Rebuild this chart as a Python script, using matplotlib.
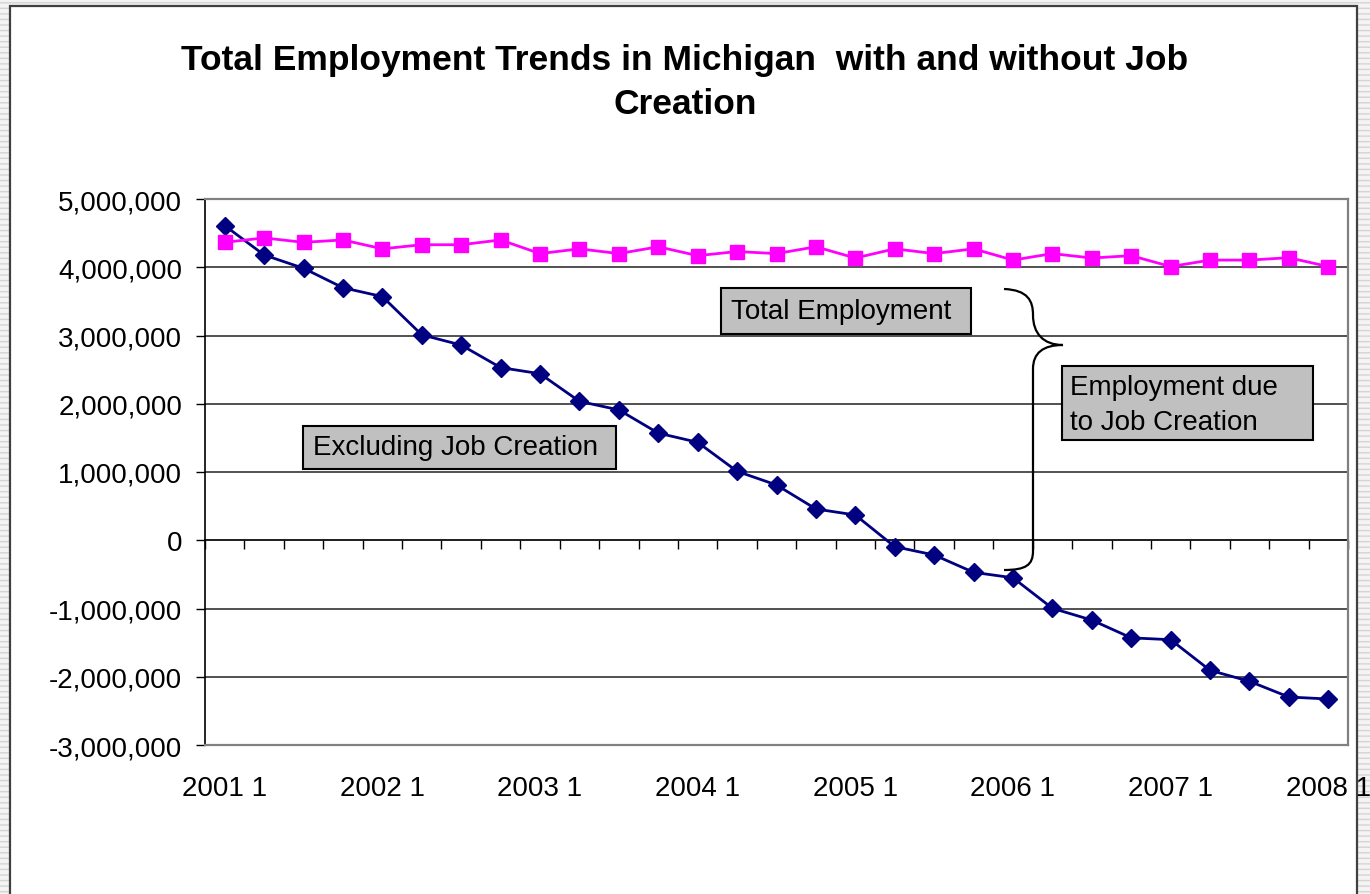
import matplotlib
matplotlib.use("Agg")
import matplotlib.pyplot as plt
from matplotlib.path import Path
from matplotlib.patches import PathPatch, Rectangle
from matplotlib.transforms import Affine2D
from matplotlib.ticker import FuncFormatter
import numpy as np

# ---------------- data ----------------
quarters = [f"{y} {q}" for y in range(2001, 2008) for q in range(1, 5)] + ["2008 1"]
total_employment = [4365000, 4430000, 4365000, 4400000, 4270000, 4330000, 4330000,
                    4400000, 4200000, 4270000, 4200000, 4300000, 4170000, 4230000,
                    4200000, 4300000, 4135000, 4270000, 4200000, 4270000, 4105000,
                    4200000, 4135000, 4170000, 4010000, 4105000, 4105000, 4140000,
                    4010000]
excluding_job_creation = [4610000, 4180000, 3985000, 3700000, 3570000, 3010000, 2860000,
                          2530000, 2440000, 2035000, 1910000, 1570000, 1435000, 1010000,
                          810000, 458000, 370000, -94000, -216000, -470000, -550000,
                          -997000, -1170000, -1430000, -1457000, -1906000, -2067000,
                          -2297000, -2326000]
y_ticks = [-3000000, -2000000, -1000000, 0, 1000000, 2000000, 3000000, 4000000, 5000000]
title = "Total Employment Trends in Michigan  with and without Job\nCreation"
label_total = "Total Employment"
label_excl = "Excluding Job Creation"
label_due = "Employment due\nto Job Creation"

plt.rcParams['font.family'] = ['Liberation Sans', 'DejaVu Sans']

W, H = 1370, 895
fig = plt.figure(figsize=(W / 100, H / 100), dpi=100)
fig.patch.set_facecolor('white')
# pixel transform (origin top-left)
T = Affine2D().scale(1 / W, -1 / H).translate(0, 1) + fig.transFigure

# slide background stripes + chart frame
bg = Rectangle((0, 0), W, H, transform=T, facecolor='#F4F4F4', edgecolor='#D4D4D4',
               hatch='---', lw=0, zorder=-10)
fig.patches.append(bg)
frame = Rectangle((10, 7), 1347, 900, transform=T, facecolor='white',
                  edgecolor='#404040', lw=1.6, zorder=-9)
fig.patches.append(frame)

ax = fig.add_axes([205 / W, 1 - 746 / H, (1348 - 205) / W, (746 - 200) / H])
ax.set_facecolor('none')
x = np.arange(len(quarters))

ax.plot(x, excluding_job_creation, color='#000080', lw=2, marker='D', ms=9,
        markeredgecolor='#000080', zorder=4, clip_on=False)
ax.plot(x, total_employment, color='#FF00FF', lw=2, marker='s', ms=10,
        markeredgecolor='#FF00FF', zorder=4, clip_on=False)

ax.set_xlim(-0.5, len(quarters) - 0.5)
ymin, ymax = -3000000, 5000000
ax.set_ylim(ymin, ymax)
ax.set_yticks(y_ticks)
ax.yaxis.set_major_formatter(FuncFormatter(lambda v, p: f"{v:,.0f}"))
ax.yaxis.grid(True, color='#222222', lw=1.1)
ax.set_axisbelow(True)
ax.tick_params(axis='y', direction='out', length=6.5, width=1, pad=10,
               labelsize=20, colors='black')

label_idx = [i for i, q in enumerate(quarters) if q.endswith(" 1")]
ax.set_xticks(label_idx)
ax.set_xticklabels([quarters[i] for i in label_idx])
ax.tick_params(axis='x', length=0, pad=21.5, labelsize=20)

for s in ['top', 'right', 'bottom']:
    ax.spines[s].set_color('#808080')
    ax.spines[s].set_linewidth(1.6)
ax.spines['left'].set_color('black')
ax.spines['left'].set_linewidth(1.2)

# category axis crossing at zero with tick marks between categories
sec = ax.secondary_xaxis((0 - ymin) / (ymax - ymin))
sec.set_xticks(np.arange(-0.5, len(quarters), 1.0))
sec.set_xticklabels([])
sec.tick_params(axis='x', direction='out', length=6.5, width=1, colors='black',
                bottom=True, top=False)
for s in sec.spines.values():
    s.set_color('black')
    s.set_linewidth(1.2)

# title
fig.text(685, 44, title, transform=T, ha='center', va='top', fontsize=25.5,
         fontweight='bold', linespacing=1.42)

# annotation boxes
def box(x0, y0, x1, y1):
    fig.patches.append(Rectangle((x0, y0), x1 - x0, y1 - y0, transform=T,
                                 facecolor='#C0C0C0', edgecolor='black', lw=1.5, zorder=5))

box(721, 289, 971, 335)
fig.text(731, 312, label_total, transform=T, ha='left', va='center', fontsize=20, zorder=6)
box(303, 427, 616, 470)
fig.text(313, 448, label_excl, transform=T, ha='left', va='center', fontsize=20, zorder=6)
box(1062, 367, 1313, 441)
fig.text(1070, 406, label_due, transform=T, ha='left', va='center', fontsize=20,
         linespacing=1.45, zorder=6)

# curly brace
verts = [(1004, 290), (1028, 291), (1033, 302), (1033, 316),
         (1033, 334), (1043, 346), (1063, 346),
         (1043, 346), (1033, 354), (1033, 370),
         (1033, 552),
         (1033, 566), (1026, 571), (1004, 571)]
codes = [Path.MOVETO, Path.CURVE4, Path.CURVE4, Path.CURVE4,
         Path.CURVE4, Path.CURVE4, Path.CURVE4,
         Path.CURVE4, Path.CURVE4, Path.CURVE4,
         Path.LINETO,
         Path.CURVE4, Path.CURVE4, Path.CURVE4]
fig.patches.append(PathPatch(Path(verts, codes), transform=T, facecolor='none',
                             edgecolor='black', lw=1.6, zorder=6))

fig.savefig('out.png', dpi=100)
